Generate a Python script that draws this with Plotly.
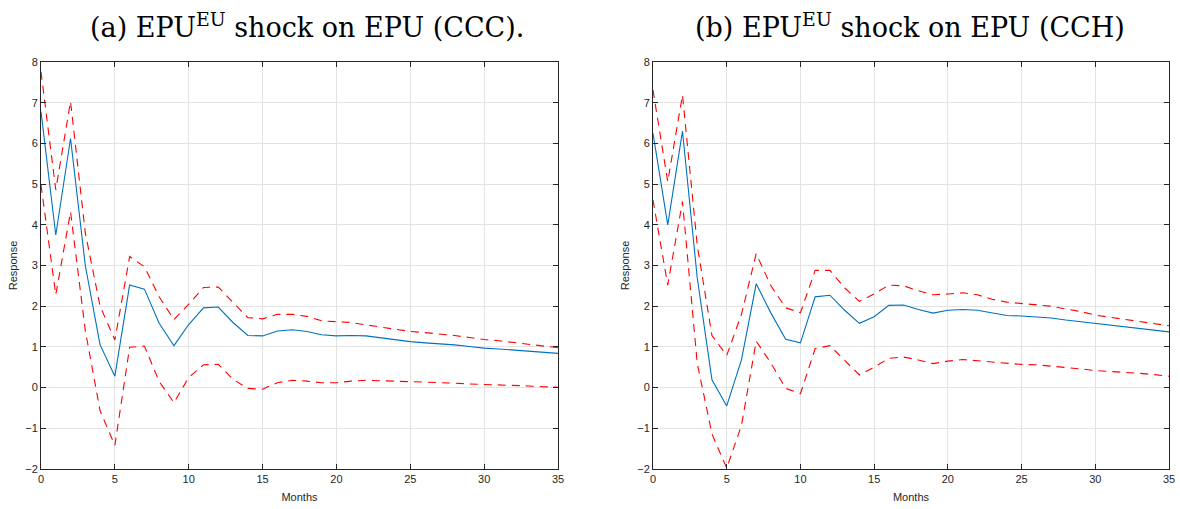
import plotly.graph_objects as go

months = list(range(36))

ccc_median = [6.78, 3.75, 6.12, 3.0, 1.05, 0.28, 2.52, 2.42, 1.58, 1.03, 1.55, 1.96, 1.98, 1.6, 1.28, 1.27,
              1.39, 1.42, 1.38, 1.3, 1.27, 1.28, 1.27, 1.22, 1.17, 1.13, 1.1, 1.08, 1.05, 1.01, 0.97, 0.95,
              0.92, 0.9, 0.87, 0.84]
ccc_upper = [7.76, 4.86, 7.03, 3.8, 2.0, 1.17, 3.22, 2.97, 2.23, 1.67, 2.05, 2.46, 2.47, 2.1, 1.72, 1.69,
             1.8, 1.8, 1.75, 1.64, 1.62, 1.6, 1.54, 1.49, 1.43, 1.38, 1.35, 1.32, 1.28, 1.23, 1.18, 1.15,
             1.11, 1.07, 1.03, 0.98]
ccc_lower = [4.98, 2.28, 4.32, 1.4, -0.57, -1.42, 0.99, 1.02, 0.15, -0.37, 0.25, 0.56, 0.57, 0.2, -0.02, -0.04,
             0.12, 0.18, 0.16, 0.12, 0.12, 0.16, 0.18, 0.17, 0.15, 0.14, 0.14, 0.13, 0.11, 0.09, 0.08, 0.07,
             0.05, 0.04, 0.02, 0.01]

cch_median = [6.25, 4.0, 6.3, 2.7, 0.19, -0.45, 0.68, 2.55, 1.83, 1.19, 1.1, 2.23, 2.27, 1.9, 1.58, 1.74,
              2.02, 2.03, 1.92, 1.83, 1.9, 1.92, 1.9, 1.83, 1.77, 1.76, 1.74, 1.71, 1.66, 1.62, 1.57, 1.54,
              1.5, 1.46, 1.42, 1.37]
cch_upper = [7.31, 5.06, 7.19, 3.5, 1.28, 0.79, 1.8, 3.29, 2.5, 1.96, 1.84, 2.88, 2.88, 2.45, 2.12, 2.3,
             2.52, 2.5, 2.38, 2.28, 2.3, 2.33, 2.28, 2.17, 2.1, 2.07, 2.04, 2.0, 1.93, 1.87, 1.78, 1.73,
             1.68, 1.62, 1.57, 1.52]
cch_lower = [4.61, 2.52, 4.57, 0.6, -1.14, -1.98, -0.93, 1.14, 0.6, -0.02, -0.15, 0.96, 1.03, 0.67, 0.31, 0.5,
             0.72, 0.75, 0.68, 0.59, 0.65, 0.69, 0.66, 0.62, 0.59, 0.57, 0.56, 0.53, 0.49, 0.46, 0.42, 0.4,
             0.37, 0.35, 0.32, 0.28]

titles = ["(a) EPU<sup>EU</sup> shock on EPU (CCC).", "(b) EPU<sup>EU</sup> shock on EPU (CCH)"]
x_ticks = [0, 5, 10, 15, 20, 25, 30, 35]
y_ticks = [-2, -1, 0, 1, 2, 3, 4, 5, 6, 7, 8]

BLUE = "#0072BD"
RED = "#FF0000"
AXC = "#262626"
GRID = "#e3e3e3"

W, H = 1180, 509
L, T = 41, 62
R = W - 1169
B = H - 469
PW, PH = W - L - R, H - T - B

fig = go.Figure()
panels = [(ccc_median, ccc_upper, ccc_lower), (cch_median, cch_upper, cch_lower)]
for i, (med, up, lo) in enumerate(panels):
    xa = "x" if i == 0 else "x2"
    ya = "y" if i == 0 else "y2"
    fig.add_trace(go.Scatter(x=months, y=up, mode="lines", line=dict(color=RED, width=1.1, dash="8px,6px"),
                             xaxis=xa, yaxis=ya, showlegend=False))
    fig.add_trace(go.Scatter(x=months, y=lo, mode="lines", line=dict(color=RED, width=1.1, dash="8px,6px"),
                             xaxis=xa, yaxis=ya, showlegend=False))
    fig.add_trace(go.Scatter(x=months, y=med, mode="lines", line=dict(color=BLUE, width=1.1),
                             xaxis=xa, yaxis=ya, showlegend=False))

axfont = dict(family="Liberation Sans, Arial, sans-serif", size=11, color=AXC)
xcommon = dict(range=[0, 35], tickvals=x_ticks, showgrid=True, gridcolor=GRID, gridwidth=1,
               showline=True, linecolor=AXC, linewidth=1, mirror="allticks", ticks="inside",
               ticklen=5, tickcolor=AXC, tickfont=axfont, zeroline=False, automargin=False,
               title=dict(text="Months", font=axfont, standoff=9))
ycommon = dict(range=[-2, 8], tickvals=y_ticks, showgrid=True, gridcolor=GRID, gridwidth=1,
               showline=True, linecolor=AXC, linewidth=1, mirror="allticks", ticks="inside",
               ticklen=5, tickcolor=AXC, tickfont=axfont, zeroline=False, automargin=False,
               title=dict(text="Response", font=axfont, standoff=5))

fig.update_layout(
    width=W, height=H,
    margin=dict(l=L, r=R, t=T, b=B),
    paper_bgcolor="white", plot_bgcolor="white",
    xaxis=dict(domain=[0, (558 - 41) / PW], anchor="y", **xcommon),
    yaxis=dict(domain=[0, 1], anchor="x", **ycommon),
    xaxis2=dict(domain=[(653 - 41) / PW, 1], anchor="y2", **xcommon),
    yaxis2=dict(domain=[0, 1], anchor="x2", **ycommon),
)

title_font = dict(family="DejaVu Serif, Liberation Serif, serif", size=27, color="black")
for txt, px in zip(titles, [307, 910]):
    fig.add_annotation(text=txt, x=(px - 41) / PW, y=1 + (62 - 25) / PH, xref="paper", yref="paper",
                       showarrow=False, font=title_font, xanchor="center", yanchor="middle")

fig.write_html("out.html", config={"displayModeBar": False},
               post_script="document.body.style.margin='0';document.body.style.overflow='hidden';")
